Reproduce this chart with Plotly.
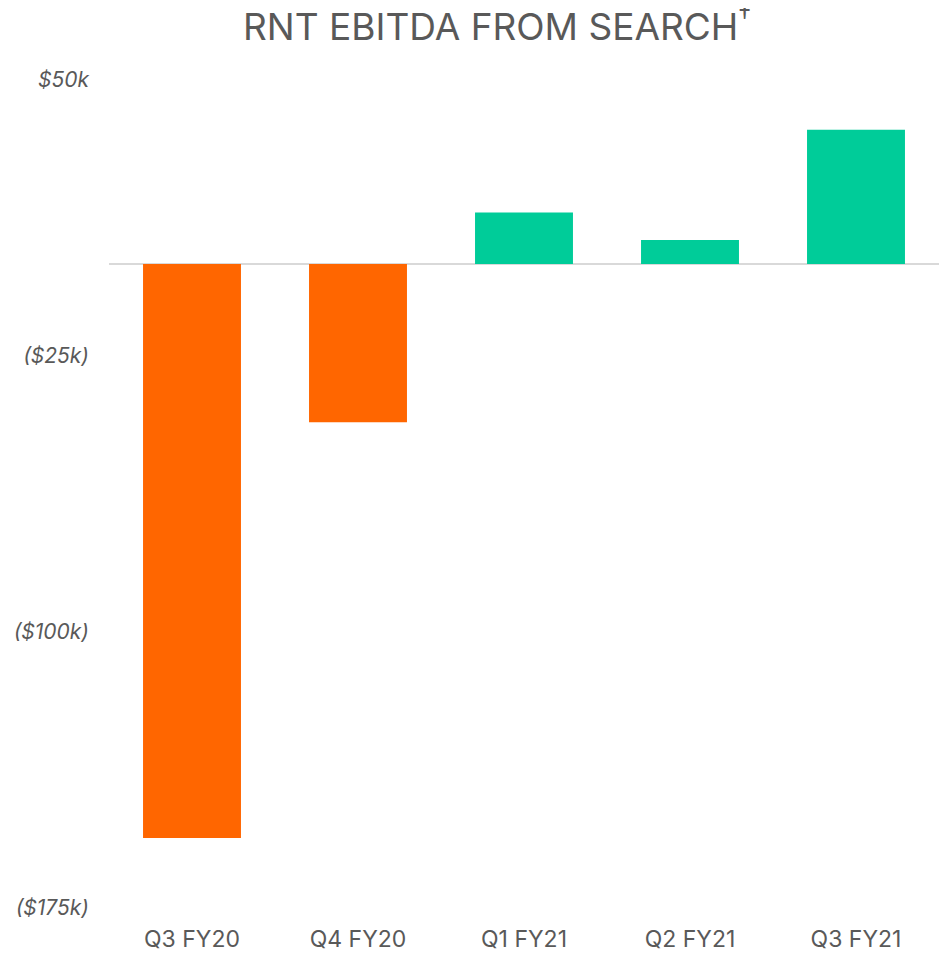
import plotly.graph_objects as go

quarters = ["Q3 FY20", "Q4 FY20", "Q1 FY21", "Q2 FY21", "Q3 FY21"]
ebitda_k = [-156, -43, 14, 6.5, 36.5]
tick_vals = [50, -25, -100, -175]
tick_text = ["$50k", "($25k)", "($100k)", "($175k)"]

colors = ["#FF6600" if v < 0 else "#00CC99" for v in ebitda_k]

fig = go.Figure(go.Bar(x=quarters, y=ebitda_k, marker=dict(color=colors, line=dict(width=0)),
                       hoverinfo="x+y"))

W, H = 941, 950
fig.update_layout(
    width=W, height=H,
    margin=dict(l=101, r=10, t=72, b=50, autoexpand=False),
    paper_bgcolor="white", plot_bgcolor="white",
    bargap=0.41,
    showlegend=False,
    title=dict(text="RNT EBITDA FROM SEARCH<sup>†</sup>", x=489/W, xanchor="center",
               xref="container", y=1 - 19/H, yanchor="middle", yref="container",
               font=dict(family="Inter", size=37, color="#595959")),
    font=dict(family="Inter", color="#595959"),
)
fig.update_yaxes(range=[-175, 50], tickvals=tick_vals, ticktext=tick_text, showgrid=False,
                 zeroline=True, zerolinecolor="#D9D9D9", zerolinewidth=2,
                 tickfont=dict(family="Inter", size=21, color="#595959", style="italic"),
                 ticklabelstandoff=19, showline=False, automargin=False)
fig.update_xaxes(showgrid=False, showline=False, ticks="",
                 tickfont=dict(family="Inter", size=23, color="#595959"),
                 ticklabelstandoff=15, automargin=False)

fig.write_html("out.html")
